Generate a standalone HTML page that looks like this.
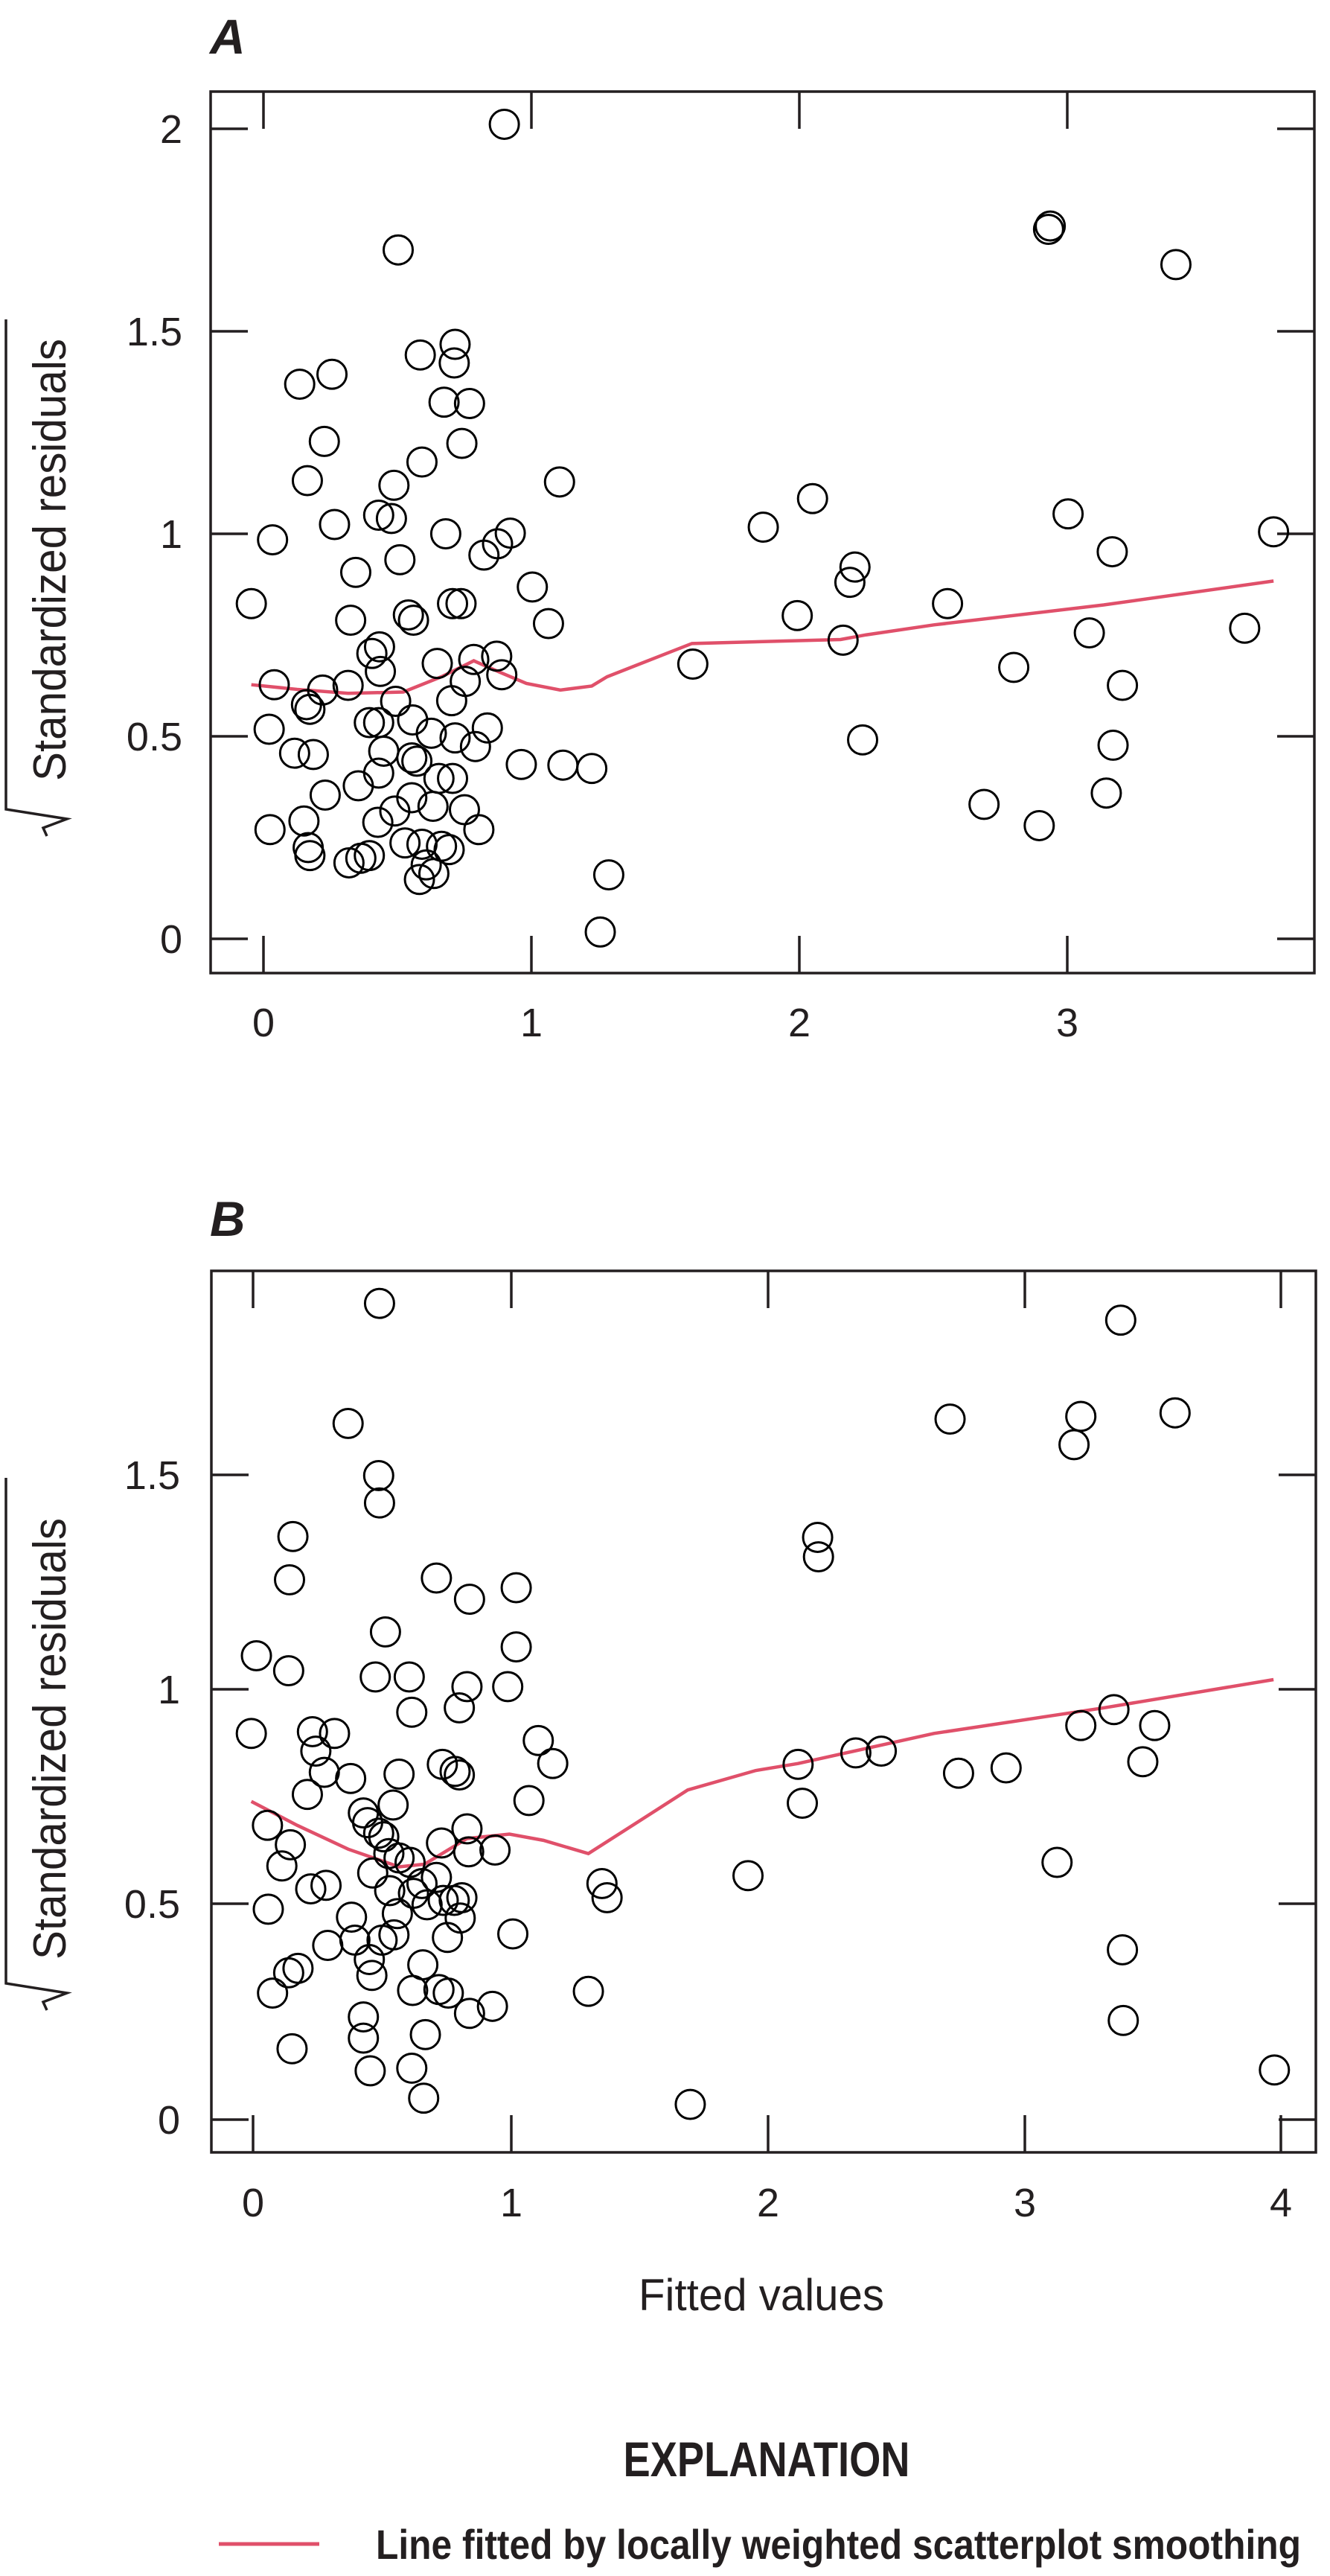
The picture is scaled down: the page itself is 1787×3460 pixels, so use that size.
<!DOCTYPE html>
<html><head><meta charset="utf-8"><style>html,body{margin:0;padding:0;background:#fff}svg{display:block}
.pa ellipse{rx:17.1px;ry:21.8px}
.pb ellipse{rx:17.1px;ry:16.4px}
</style></head>
<body>
<svg width="1787" height="3460" viewBox="0 0 1787 3460" xmlns="http://www.w3.org/2000/svg" font-family="'Liberation Sans Narrow','Liberation Sans',sans-serif">
<rect width="1787" height="3460" fill="#fff"/>
<!-- Panel A -->
<text x="282" y="72" font-size="66" font-weight="bold" font-style="italic" fill="#231f20">A</text>
<g stroke="#231f20" stroke-width="3.5" fill="none">
<rect x="283" y="123" width="1483" height="1184"/>
<path d="M354 123v50M714 123v50M1074 123v50M1434 123v50M354 1307v-50M714 1307v-50M1074 1307v-50M1434 1307v-50"/>
<path d="M283 173h50M283 445h50M283 717h50M283 989h50M283 1261h50M1766 173h-50M1766 445h-50M1766 717h-50M1766 989h-50M1766 1261h-50"/>
<path d="M8 429V1087L90 1100L58 1112L63 1123"/>
</g>
<g font-size="54" fill="#231f20">
<text x="354" y="1392" text-anchor="middle">0</text><text x="714" y="1392" text-anchor="middle">1</text><text x="1074" y="1392" text-anchor="middle">2</text><text x="1434" y="1392" text-anchor="middle">3</text>
<text x="245" y="192" text-anchor="end">2</text><text x="245" y="464" text-anchor="end">1.5</text><text x="245" y="736" text-anchor="end">1</text><text x="245" y="1008" text-anchor="end">0.5</text><text x="245" y="1280" text-anchor="end">0</text>
</g>
<text transform="translate(88,1049) rotate(-90)" font-size="62" fill="#231f20" textLength="594" lengthAdjust="spacingAndGlyphs">Standardized residuals</text>
<g class="pa" transform="scale(1.14077,0.8929)" fill="none" stroke="#000" stroke-width="3" >
<polyline vector-effect="non-scaling-stroke" stroke="#e0506a" stroke-width="4.5" points="296,1030 350,1037 410,1043 475,1041 520,1018 558,994 590,1012 620,1028 660,1038 697,1032 715,1018 815,968 990,962 1020,955 1100,940 1300,910 1500,874"/>
<g vector-effect="non-scaling-stroke">
<ellipse vector-effect="non-scaling-stroke" cx="594" cy="187"/><ellipse vector-effect="non-scaling-stroke" cx="469" cy="376"/><ellipse vector-effect="non-scaling-stroke" cx="1237" cy="340"/><ellipse vector-effect="non-scaling-stroke" cx="1235" cy="345"/><ellipse vector-effect="non-scaling-stroke" cx="1385" cy="398"/><ellipse vector-effect="non-scaling-stroke" cx="536" cy="518"/><ellipse vector-effect="non-scaling-stroke" cx="495" cy="534"/><ellipse vector-effect="non-scaling-stroke" cx="535" cy="546"/><ellipse vector-effect="non-scaling-stroke" cx="391" cy="563"/><ellipse vector-effect="non-scaling-stroke" cx="353" cy="578"/><ellipse vector-effect="non-scaling-stroke" cx="523" cy="605"/><ellipse vector-effect="non-scaling-stroke" cx="553" cy="607"/><ellipse vector-effect="non-scaling-stroke" cx="382" cy="664"/><ellipse vector-effect="non-scaling-stroke" cx="544" cy="667"/><ellipse vector-effect="non-scaling-stroke" cx="497" cy="695"/><ellipse vector-effect="non-scaling-stroke" cx="362" cy="723"/><ellipse vector-effect="non-scaling-stroke" cx="464" cy="730"/><ellipse vector-effect="non-scaling-stroke" cx="659" cy="725"/><ellipse vector-effect="non-scaling-stroke" cx="957" cy="750"/><ellipse vector-effect="non-scaling-stroke" cx="1258" cy="773"/><ellipse vector-effect="non-scaling-stroke" cx="446" cy="775"/><ellipse vector-effect="non-scaling-stroke" cx="461" cy="780"/><ellipse vector-effect="non-scaling-stroke" cx="394" cy="789"/><ellipse vector-effect="non-scaling-stroke" cx="899" cy="793"/><ellipse vector-effect="non-scaling-stroke" cx="321" cy="812"/><ellipse vector-effect="non-scaling-stroke" cx="525" cy="803"/><ellipse vector-effect="non-scaling-stroke" cx="601" cy="802"/><ellipse vector-effect="non-scaling-stroke" cx="586" cy="818"/><ellipse vector-effect="non-scaling-stroke" cx="1500" cy="800"/><ellipse vector-effect="non-scaling-stroke" cx="570" cy="835"/><ellipse vector-effect="non-scaling-stroke" cx="471" cy="842"/><ellipse vector-effect="non-scaling-stroke" cx="1310" cy="830"/><ellipse vector-effect="non-scaling-stroke" cx="1007" cy="853"/><ellipse vector-effect="non-scaling-stroke" cx="1001" cy="876"/><ellipse vector-effect="non-scaling-stroke" cx="419" cy="861"/><ellipse vector-effect="non-scaling-stroke" cx="627" cy="883"/><ellipse vector-effect="non-scaling-stroke" cx="296" cy="908"/><ellipse vector-effect="non-scaling-stroke" cx="533" cy="908"/><ellipse vector-effect="non-scaling-stroke" cx="543" cy="908"/><ellipse vector-effect="non-scaling-stroke" cx="1116" cy="908"/><ellipse vector-effect="non-scaling-stroke" cx="481" cy="925"/><ellipse vector-effect="non-scaling-stroke" cx="487" cy="933"/><ellipse vector-effect="non-scaling-stroke" cx="413" cy="933"/><ellipse vector-effect="non-scaling-stroke" cx="939" cy="926"/><ellipse vector-effect="non-scaling-stroke" cx="646" cy="938"/><ellipse vector-effect="non-scaling-stroke" cx="1283" cy="952"/><ellipse vector-effect="non-scaling-stroke" cx="1466" cy="945"/><ellipse vector-effect="non-scaling-stroke" cx="993" cy="963"/><ellipse vector-effect="non-scaling-stroke" cx="447" cy="973"/><ellipse vector-effect="non-scaling-stroke" cx="438" cy="983"/><ellipse vector-effect="non-scaling-stroke" cx="585" cy="987"/><ellipse vector-effect="non-scaling-stroke" cx="558" cy="992"/><ellipse vector-effect="non-scaling-stroke" cx="515" cy="998"/><ellipse vector-effect="non-scaling-stroke" cx="816" cy="999"/><ellipse vector-effect="non-scaling-stroke" cx="1194" cy="1004"/><ellipse vector-effect="non-scaling-stroke" cx="448" cy="1010"/><ellipse vector-effect="non-scaling-stroke" cx="591" cy="1015"/><ellipse vector-effect="non-scaling-stroke" cx="323" cy="1030"/><ellipse vector-effect="non-scaling-stroke" cx="380" cy="1038"/><ellipse vector-effect="non-scaling-stroke" cx="410" cy="1031"/><ellipse vector-effect="non-scaling-stroke" cx="548" cy="1025"/><ellipse vector-effect="non-scaling-stroke" cx="1322" cy="1031"/><ellipse vector-effect="non-scaling-stroke" cx="361" cy="1060"/><ellipse vector-effect="non-scaling-stroke" cx="365" cy="1067"/><ellipse vector-effect="non-scaling-stroke" cx="466" cy="1055"/><ellipse vector-effect="non-scaling-stroke" cx="532" cy="1054"/><ellipse vector-effect="non-scaling-stroke" cx="486" cy="1083"/><ellipse vector-effect="non-scaling-stroke" cx="435" cy="1087"/><ellipse vector-effect="non-scaling-stroke" cx="446" cy="1087"/><ellipse vector-effect="non-scaling-stroke" cx="574" cy="1095"/><ellipse vector-effect="non-scaling-stroke" cx="317" cy="1097"/><ellipse vector-effect="non-scaling-stroke" cx="508" cy="1103"/><ellipse vector-effect="non-scaling-stroke" cx="536" cy="1110"/><ellipse vector-effect="non-scaling-stroke" cx="560" cy="1123"/><ellipse vector-effect="non-scaling-stroke" cx="1016" cy="1113"/><ellipse vector-effect="non-scaling-stroke" cx="1311" cy="1121"/><ellipse vector-effect="non-scaling-stroke" cx="347" cy="1133"/><ellipse vector-effect="non-scaling-stroke" cx="369" cy="1135"/><ellipse vector-effect="non-scaling-stroke" cx="452" cy="1130"/><ellipse vector-effect="non-scaling-stroke" cx="485" cy="1140"/><ellipse vector-effect="non-scaling-stroke" cx="491" cy="1145"/><ellipse vector-effect="non-scaling-stroke" cx="614" cy="1150"/><ellipse vector-effect="non-scaling-stroke" cx="663" cy="1151"/><ellipse vector-effect="non-scaling-stroke" cx="697" cy="1156"/><ellipse vector-effect="non-scaling-stroke" cx="446" cy="1163"/><ellipse vector-effect="non-scaling-stroke" cx="517" cy="1171"/><ellipse vector-effect="non-scaling-stroke" cx="533" cy="1171"/><ellipse vector-effect="non-scaling-stroke" cx="422" cy="1182"/><ellipse vector-effect="non-scaling-stroke" cx="383" cy="1196"/><ellipse vector-effect="non-scaling-stroke" cx="485" cy="1200"/><ellipse vector-effect="non-scaling-stroke" cx="510" cy="1213"/><ellipse vector-effect="non-scaling-stroke" cx="465" cy="1220"/><ellipse vector-effect="non-scaling-stroke" cx="547" cy="1218"/><ellipse vector-effect="non-scaling-stroke" cx="1159" cy="1210"/><ellipse vector-effect="non-scaling-stroke" cx="1303" cy="1193"/><ellipse vector-effect="non-scaling-stroke" cx="445" cy="1237"/><ellipse vector-effect="non-scaling-stroke" cx="358" cy="1235"/><ellipse vector-effect="non-scaling-stroke" cx="318" cy="1248"/><ellipse vector-effect="non-scaling-stroke" cx="564" cy="1248"/><ellipse vector-effect="non-scaling-stroke" cx="1224" cy="1242"/><ellipse vector-effect="non-scaling-stroke" cx="477" cy="1268"/><ellipse vector-effect="non-scaling-stroke" cx="497" cy="1270"/><ellipse vector-effect="non-scaling-stroke" cx="520" cy="1273"/><ellipse vector-effect="non-scaling-stroke" cx="529" cy="1278"/><ellipse vector-effect="non-scaling-stroke" cx="363" cy="1275"/><ellipse vector-effect="non-scaling-stroke" cx="365" cy="1287"/><ellipse vector-effect="non-scaling-stroke" cx="411" cy="1298"/><ellipse vector-effect="non-scaling-stroke" cx="425" cy="1291"/><ellipse vector-effect="non-scaling-stroke" cx="435" cy="1287"/><ellipse vector-effect="non-scaling-stroke" cx="502" cy="1301"/><ellipse vector-effect="non-scaling-stroke" cx="511" cy="1314"/><ellipse vector-effect="non-scaling-stroke" cx="494" cy="1323"/><ellipse vector-effect="non-scaling-stroke" cx="717" cy="1316"/><ellipse vector-effect="non-scaling-stroke" cx="707" cy="1402"/>
</g>
</g>
<!-- Panel B -->
<text x="282" y="1660" font-size="66" font-weight="bold" font-style="italic" fill="#231f20">B</text>
<g stroke="#231f20" stroke-width="3.5" fill="none">
<rect x="284" y="1707" width="1484" height="1184"/>
<path d="M340 1707v50M687 1707v50M1032 1707v50M1377 1707v50M1721 1707v50M340 2891v-50M687 2891v-50M1032 2891v-50M1377 2891v-50M1721 2891v-50"/>
<path d="M284 1981h50M284 2269h50M284 2557h50M284 2847h50M1768 1981h-50M1768 2269h-50M1768 2557h-50M1768 2847h-50"/>
<path d="M8 1985V2664L90 2677L58 2689L63 2700"/>
</g>
<g font-size="54" fill="#231f20">
<text x="340" y="2977" text-anchor="middle">0</text><text x="687" y="2977" text-anchor="middle">1</text><text x="1032" y="2977" text-anchor="middle">2</text><text x="1377" y="2977" text-anchor="middle">3</text><text x="1721" y="2977" text-anchor="middle">4</text>
<text x="242" y="2000" text-anchor="end">1.5</text><text x="242" y="2288" text-anchor="end">1</text><text x="242" y="2576" text-anchor="end">0.5</text><text x="242" y="2866" text-anchor="end">0</text>
</g>
<text transform="translate(88,2632) rotate(-90)" font-size="62" fill="#231f20" textLength="593" lengthAdjust="spacingAndGlyphs">Standardized residuals</text>
<text x="1023" y="3103" font-size="60" fill="#231f20" text-anchor="middle" textLength="330" lengthAdjust="spacingAndGlyphs">Fitted values</text>
<g class="pb" transform="translate(0,1600) scale(1.14077,1.1862)" fill="none" stroke="#000" stroke-width="3">
<polyline vector-effect="non-scaling-stroke" stroke="#e0506a" stroke-width="4.5" points="296,691 350,718 410,745 470,765 500,762 550,733 600,728 640,735 693,750 750,715 810,678 890,656 940,648 1100,614 1300,585 1500,553"/>
<ellipse vector-effect="non-scaling-stroke" cx="447" cy="127"/><ellipse vector-effect="non-scaling-stroke" cx="1320" cy="146"/><ellipse vector-effect="non-scaling-stroke" cx="410" cy="263"/><ellipse vector-effect="non-scaling-stroke" cx="1119" cy="258"/><ellipse vector-effect="non-scaling-stroke" cx="1273" cy="255"/><ellipse vector-effect="non-scaling-stroke" cx="1384" cy="251"/><ellipse vector-effect="non-scaling-stroke" cx="1265" cy="287"/><ellipse vector-effect="non-scaling-stroke" cx="446" cy="322"/><ellipse vector-effect="non-scaling-stroke" cx="447" cy="353"/><ellipse vector-effect="non-scaling-stroke" cx="345" cy="391"/><ellipse vector-effect="non-scaling-stroke" cx="963" cy="392"/><ellipse vector-effect="non-scaling-stroke" cx="964" cy="414"/><ellipse vector-effect="non-scaling-stroke" cx="341" cy="440"/><ellipse vector-effect="non-scaling-stroke" cx="514" cy="438"/><ellipse vector-effect="non-scaling-stroke" cx="608" cy="449"/><ellipse vector-effect="non-scaling-stroke" cx="553" cy="462"/><ellipse vector-effect="non-scaling-stroke" cx="454" cy="499"/><ellipse vector-effect="non-scaling-stroke" cx="608" cy="516"/><ellipse vector-effect="non-scaling-stroke" cx="302" cy="526"/><ellipse vector-effect="non-scaling-stroke" cx="340" cy="543"/><ellipse vector-effect="non-scaling-stroke" cx="442" cy="550"/><ellipse vector-effect="non-scaling-stroke" cx="482" cy="550"/><ellipse vector-effect="non-scaling-stroke" cx="598" cy="561"/><ellipse vector-effect="non-scaling-stroke" cx="550" cy="561"/><ellipse vector-effect="non-scaling-stroke" cx="541" cy="585"/><ellipse vector-effect="non-scaling-stroke" cx="485" cy="590"/><ellipse vector-effect="non-scaling-stroke" cx="296" cy="614"/><ellipse vector-effect="non-scaling-stroke" cx="368" cy="612"/><ellipse vector-effect="non-scaling-stroke" cx="394" cy="614"/><ellipse vector-effect="non-scaling-stroke" cx="372" cy="634"/><ellipse vector-effect="non-scaling-stroke" cx="634" cy="622"/><ellipse vector-effect="non-scaling-stroke" cx="651" cy="648"/><ellipse vector-effect="non-scaling-stroke" cx="521" cy="649"/><ellipse vector-effect="non-scaling-stroke" cx="536" cy="657"/><ellipse vector-effect="non-scaling-stroke" cx="541" cy="661"/><ellipse vector-effect="non-scaling-stroke" cx="382" cy="658"/><ellipse vector-effect="non-scaling-stroke" cx="413" cy="665"/><ellipse vector-effect="non-scaling-stroke" cx="470" cy="660"/><ellipse vector-effect="non-scaling-stroke" cx="362" cy="683"/><ellipse vector-effect="non-scaling-stroke" cx="940" cy="649"/><ellipse vector-effect="non-scaling-stroke" cx="1008" cy="636"/><ellipse vector-effect="non-scaling-stroke" cx="1038" cy="634"/><ellipse vector-effect="non-scaling-stroke" cx="1129" cy="659"/><ellipse vector-effect="non-scaling-stroke" cx="1185" cy="653"/><ellipse vector-effect="non-scaling-stroke" cx="1273" cy="605"/><ellipse vector-effect="non-scaling-stroke" cx="1312" cy="587"/><ellipse vector-effect="non-scaling-stroke" cx="1360" cy="605"/><ellipse vector-effect="non-scaling-stroke" cx="1346" cy="646"/><ellipse vector-effect="non-scaling-stroke" cx="945" cy="693"/><ellipse vector-effect="non-scaling-stroke" cx="623" cy="690"/><ellipse vector-effect="non-scaling-stroke" cx="463" cy="695"/><ellipse vector-effect="non-scaling-stroke" cx="428" cy="704"/><ellipse vector-effect="non-scaling-stroke" cx="433" cy="715"/><ellipse vector-effect="non-scaling-stroke" cx="446" cy="727"/><ellipse vector-effect="non-scaling-stroke" cx="452" cy="731"/><ellipse vector-effect="non-scaling-stroke" cx="315" cy="718"/><ellipse vector-effect="non-scaling-stroke" cx="342" cy="740"/><ellipse vector-effect="non-scaling-stroke" cx="520" cy="738"/><ellipse vector-effect="non-scaling-stroke" cx="550" cy="722"/><ellipse vector-effect="non-scaling-stroke" cx="583" cy="746"/><ellipse vector-effect="non-scaling-stroke" cx="552" cy="748"/><ellipse vector-effect="non-scaling-stroke" cx="458" cy="750"/><ellipse vector-effect="non-scaling-stroke" cx="470" cy="755"/><ellipse vector-effect="non-scaling-stroke" cx="483" cy="760"/><ellipse vector-effect="non-scaling-stroke" cx="332" cy="764"/><ellipse vector-effect="non-scaling-stroke" cx="439" cy="772"/><ellipse vector-effect="non-scaling-stroke" cx="881" cy="775"/><ellipse vector-effect="non-scaling-stroke" cx="1245" cy="760"/><ellipse vector-effect="non-scaling-stroke" cx="709" cy="784"/><ellipse vector-effect="non-scaling-stroke" cx="715" cy="800"/><ellipse vector-effect="non-scaling-stroke" cx="514" cy="777"/><ellipse vector-effect="non-scaling-stroke" cx="497" cy="784"/><ellipse vector-effect="non-scaling-stroke" cx="487" cy="795"/><ellipse vector-effect="non-scaling-stroke" cx="459" cy="792"/><ellipse vector-effect="non-scaling-stroke" cx="544" cy="800"/><ellipse vector-effect="non-scaling-stroke" cx="522" cy="803"/><ellipse vector-effect="non-scaling-stroke" cx="535" cy="803"/><ellipse vector-effect="non-scaling-stroke" cx="366" cy="790"/><ellipse vector-effect="non-scaling-stroke" cx="384" cy="786"/><ellipse vector-effect="non-scaling-stroke" cx="503" cy="808"/><ellipse vector-effect="non-scaling-stroke" cx="316" cy="813"/><ellipse vector-effect="non-scaling-stroke" cx="414" cy="822"/><ellipse vector-effect="non-scaling-stroke" cx="542" cy="823"/><ellipse vector-effect="non-scaling-stroke" cx="468" cy="818"/><ellipse vector-effect="non-scaling-stroke" cx="604" cy="841"/><ellipse vector-effect="non-scaling-stroke" cx="527" cy="845"/><ellipse vector-effect="non-scaling-stroke" cx="464" cy="842"/><ellipse vector-effect="non-scaling-stroke" cx="450" cy="848"/><ellipse vector-effect="non-scaling-stroke" cx="418" cy="848"/><ellipse vector-effect="non-scaling-stroke" cx="386" cy="854"/><ellipse vector-effect="non-scaling-stroke" cx="435" cy="870"/><ellipse vector-effect="non-scaling-stroke" cx="438" cy="888"/><ellipse vector-effect="non-scaling-stroke" cx="498" cy="876"/><ellipse vector-effect="non-scaling-stroke" cx="340" cy="885"/><ellipse vector-effect="non-scaling-stroke" cx="351" cy="880"/><ellipse vector-effect="non-scaling-stroke" cx="321" cy="908"/><ellipse vector-effect="non-scaling-stroke" cx="486" cy="905"/><ellipse vector-effect="non-scaling-stroke" cx="517" cy="904"/><ellipse vector-effect="non-scaling-stroke" cx="528" cy="908"/><ellipse vector-effect="non-scaling-stroke" cx="580" cy="923"/><ellipse vector-effect="non-scaling-stroke" cx="693" cy="906"/><ellipse vector-effect="non-scaling-stroke" cx="553" cy="931"/><ellipse vector-effect="non-scaling-stroke" cx="1322" cy="859"/><ellipse vector-effect="non-scaling-stroke" cx="1323" cy="939"/><ellipse vector-effect="non-scaling-stroke" cx="428" cy="935"/><ellipse vector-effect="non-scaling-stroke" cx="428" cy="959"/><ellipse vector-effect="non-scaling-stroke" cx="501" cy="955"/><ellipse vector-effect="non-scaling-stroke" cx="344" cy="971"/><ellipse vector-effect="non-scaling-stroke" cx="436" cy="996"/><ellipse vector-effect="non-scaling-stroke" cx="485" cy="993"/><ellipse vector-effect="non-scaling-stroke" cx="499" cy="1027"/><ellipse vector-effect="non-scaling-stroke" cx="813" cy="1034"/><ellipse vector-effect="non-scaling-stroke" cx="1501" cy="995"/>
</g>
<!-- Explanation -->
<text x="1030" y="3326" font-size="66" font-weight="bold" fill="#231f20" text-anchor="middle" textLength="385" lengthAdjust="spacingAndGlyphs">EXPLANATION</text>
<line x1="294" y1="3417" x2="429" y2="3417" stroke="#e0506a" stroke-width="5"/>
<text x="505" y="3437" font-size="56" font-weight="bold" fill="#231f20" textLength="1243" lengthAdjust="spacingAndGlyphs">Line fitted by locally weighted scatterplot smoothing</text>
</svg>
</body></html>
